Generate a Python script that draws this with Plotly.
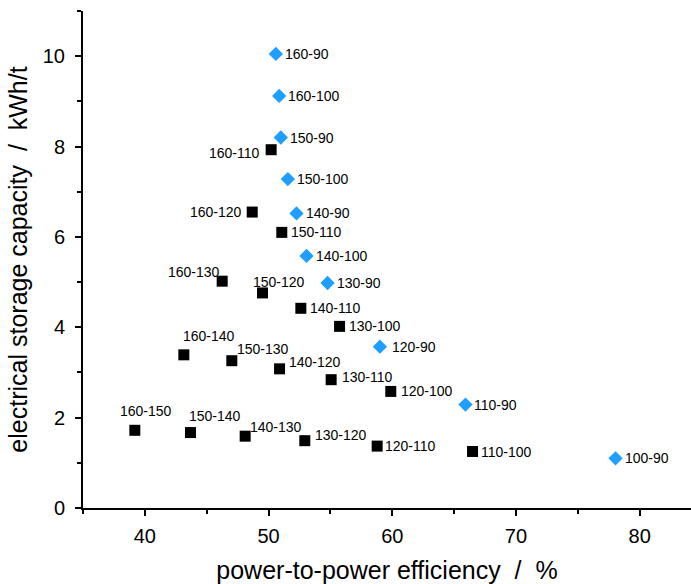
import plotly.graph_objects as go

# Blue diamonds
dia_labels = ["160-90", "160-100", "150-90", "150-100", "140-90", "140-100",
              "130-90", "120-90", "110-90", "100-90"]
dia_x = [50.59, 50.86, 50.99, 51.56, 52.26, 53.07, 54.77, 59.0, 65.92, 78.05]
dia_y = [10.05, 9.12, 8.20, 7.28, 6.52, 5.58, 4.98, 3.57, 2.29, 1.10]

# Black squares
sq_labels = ["160-110", "160-120", "150-110", "160-130", "150-120", "140-110",
             "130-100", "160-140", "150-130", "140-120", "130-110", "120-100",
             "110-100", "160-150", "150-140", "140-130", "130-120", "120-110"]
sq_x = [50.21, 48.68, 51.07, 46.25, 49.51, 52.61, 55.74, 43.15, 47.03, 50.89,
        55.06, 59.88, 66.49, 39.19, 43.69, 48.11, 52.93, 58.78]
sq_y = [7.93, 6.55, 6.10, 5.02, 4.76, 4.42, 4.02, 3.39, 3.26, 3.08, 2.84, 2.58,
        1.25, 1.72, 1.67, 1.59, 1.49, 1.37]

# label placement styles (anchor, x shift px, y shift px)
dia_lab_style = [("left", 7, 0)] * 7 + [("left", 10, 0), ("left", 7, 0), ("left", 7, 0)]
sq_lab_style = [("right", -9, -3), ("right", -8, 0), ("left", 7, 0), ("right", 0, 9),
                ("left", -11, 11), ("left", 7, 0), ("left", 7, 0), ("left", -3, 19),
                ("left", 3, 12), ("left", 7, 7), ("left", 9, 3), ("left", 8, 0),
                ("left", 6, 0), ("left", -17, 19), ("left", -4, 17), ("left", 3, 9),
                ("left", 8, 6), ("left", 6, 0)]

BLUE = "#1E9EFF"
FONT = "Liberation Sans, Arial, sans-serif"

fig = go.Figure()
fig.add_trace(go.Scatter(x=sq_x, y=sq_y, mode="markers",
                         marker=dict(symbol="square", size=11, color="black"),
                         showlegend=False, hoverinfo="skip"))
fig.add_trace(go.Scatter(x=dia_x, y=dia_y, mode="markers",
                         marker=dict(symbol="diamond", size=11, color=BLUE),
                         showlegend=False, hoverinfo="skip"))

annots = []
for labs, xs, ys, styles in [(dia_labels, dia_x, dia_y, dia_lab_style),
                             (sq_labels, sq_x, sq_y, sq_lab_style)]:
    for lab, x, y, (anc, dx, dy) in zip(labs, xs, ys, styles):
        annots.append(dict(x=x, y=y, text=lab, showarrow=False, xanchor=anc,
                           yanchor="middle", xshift=dx, yshift=dy,
                           font=dict(family=FONT, size=14, color="black")))

fig.update_layout(
    width=691, height=584,
    margin=dict(l=83, r=0, t=11, b=76),
    paper_bgcolor="white", plot_bgcolor="white",
    font=dict(family=FONT, color="black"),
    annotations=annots,
    xaxis=dict(range=[35, 84.15], dtick=10, tick0=0, showgrid=False, zeroline=False,
               showline=True, linecolor="black", linewidth=2,
               ticks="outside", ticklen=6, tickwidth=1.5, tickcolor="black",
               minor=dict(ticks="outside", ticklen=4, dtick=5, tickwidth=1.5, tickcolor="black"),
               tickfont=dict(size=20), ticklabelstandoff=3,
               title=dict(text="power-to-power efficiency  /  %", font=dict(size=25), standoff=17)),
    yaxis=dict(range=[0, 11], dtick=2, tick0=0, showgrid=False, zeroline=False,
               showline=True, linecolor="black", linewidth=2,
               ticks="outside", ticklen=6, tickwidth=1.5, tickcolor="black",
               minor=dict(ticks="outside", ticklen=4, dtick=1, tickwidth=1.5, tickcolor="black"),
               tickfont=dict(size=20), ticklabelstandoff=6,
               title=dict(text="electrical storage capacity  /  kWh/t", font=dict(size=25), standoff=8)),
)

fig.write_html("out.html")
